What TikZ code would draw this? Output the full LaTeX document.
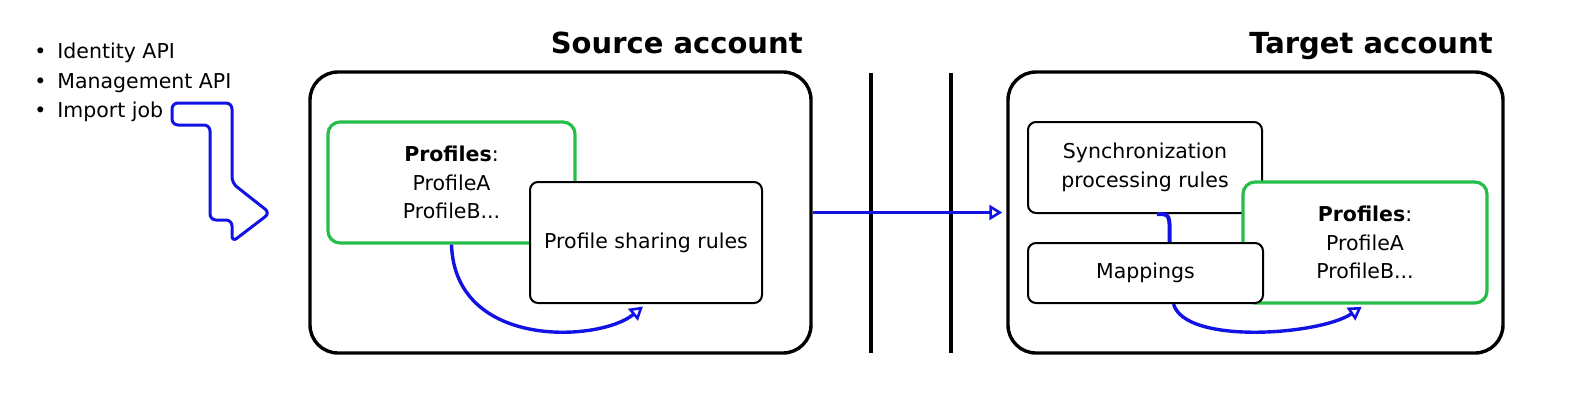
\documentclass[tikz,border=0pt]{standalone}
\usepackage{fontspec}
\setmainfont{DejaVu Sans}
\usepackage{tikz}
\usetikzlibrary{arrows.meta,positioning}

\definecolor{sketchgreen}{RGB}{38,190,74}
\definecolor{sketchblue}{RGB}{18,18,228}

\begin{document}
\begin{tikzpicture}[x=0.5pt,y=-0.5pt,
  body/.style={font=\fontsize{10.25}{14.25}\selectfont,align=center,inner sep=0pt},
  item/.style={body,anchor=west},
  title/.style={font=\fontsize{14.5}{16}\selectfont\bfseries,inner sep=0pt,anchor=base east},
  account box/.style={draw,line width=1.7pt,rounded corners=14pt,minimum height=140.5pt},
  rule box/.style={body,draw,fill=white,line width=1pt,rounded corners=4pt},
  profile box/.style={body,draw=sketchgreen,fill=white,line width=1.6pt,rounded corners=6pt,
    minimum width=122pt,minimum height=60.5pt},
  flow/.style={draw=sketchblue,line width=1.7pt,
    -{Triangle[open,length=6.5pt,width=7.5pt,line width=1.3pt]},shorten >=2pt},
  link/.style={draw=sketchblue,line width=2pt},
  separator/.style={line width=1.6pt}]

\useasboundingbox (0,0) rectangle (1570,414);

% ways to load profiles
\node[item] (ident) at (57,53) {\llap{\textbullet\hspace{5.5pt}}Identity API};
\node[item] (mgmt) at (57,83) {\llap{\textbullet\hspace{5.5pt}}Management API};
\node[item] (import) at (57,112) {\llap{\textbullet\hspace{5.5pt}}Import job};

\draw[sketchblue,line width=1.5pt,rounded corners=3pt]
  (172,103) -- (232,103) -- (232,183) -- (270,213) -- (232,242) -- (232,220)
  -- (210,220) -- (210,125) -- (172,125) -- cycle;

% source account
\node[title] (srcTitle) at (803,53) {Source account};
\node[account box,minimum width=250.5pt] (src) at (560.5,212.5) {};
\node[profile box,minimum width=123.5pt] (srcProf) at (451.5,182.5)
  {\textbf{Profiles}:\\ProfileA\\ProfileB...};
\node[rule box,minimum width=116pt,minimum height=60.5pt] (share) at (646,242.5)
  {Profile sharing rules};

\draw[flow] (srcProf.south) .. controls (455,350) and (600,342) .. (share.south);

% between the accounts
\draw[separator] (871,73) -- (871,353);
\draw[separator] (951,73) -- (951,353);

% target account
\node[title] (tgtTitle) at (1493,53) {Target account};
\node[account box,minimum width=247.5pt] (tgt) at (1255.5,212.5) {};
\node[rule box,minimum width=117pt,minimum height=45.5pt] (sync) at (1145,167.5)
  {Synchronization\\processing rules};
\node[profile box] (tgtProf) at (1365,242.5)
  {\textbf{Profiles}:\\ProfileA\\ProfileB...};
\node[rule box,minimum width=117.5pt,minimum height=30pt] (map) at (1145.5,273)
  {Mappings};

\draw[link] ([xshift=6pt]sync.south) .. controls (1170,214) .. ([xshift=12pt]map.north);
\draw[flow] ([xshift=14pt]map.south) .. controls (1185,345) and (1320,335) .. (tgtProf.south);

\draw[flow] (src.east) -- (tgt.west);

\end{tikzpicture}
\end{document}
